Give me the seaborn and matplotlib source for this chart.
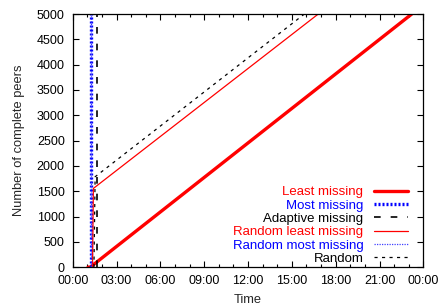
import matplotlib
matplotlib.use("Agg")
import matplotlib.pyplot as plt
import seaborn as sns
import pandas as pd
from matplotlib.ticker import MultipleLocator

# Data (time in hours, number of complete peers)
least_t = [1.05, 1.2, 23.2]
least_y = [0, 0, 5000]
most_t = [1.25, 1.25]
most_y = [0, 5200]
adaptive_t = [1.69, 1.69]
adaptive_y = [0, 5200]
rand_least_t = [1.35, 1.41, 16.8]
rand_least_y = [0, 1555, 5000]
rand_most_t = [1.22, 1.22]
rand_most_y = [0, 5200]
random_t = [1.45, 1.53, 15.85]
random_y = [0, 1785, 5000]

xtick_vals = [0, 3, 6, 9, 12, 15, 18, 21, 24]
xtick_labels = ["00:00", "03:00", "06:00", "09:00", "12:00", "15:00", "18:00", "21:00", "00:00"]
ytick_vals = list(range(0, 5001, 500))

sns.set_style("ticks")
plt.rcParams['font.family'] = ['Liberation Sans', 'DejaVu Sans']
plt.rcParams['font.size'] = 9

fig = plt.figure(figsize=(4.41, 3.06), dpi=100)
ax = fig.add_axes([0.165, 0.127, 0.795, 0.827])

series = [
    ("Least missing", least_t, least_y, dict(color="#ff0000", linewidth=2.4, linestyle="-")),
    ("Most missing", most_t, most_y, dict(color="#0000ff", linewidth=2.4, linestyle=(0, (0.6, 0.6)))),
    ("Adaptive missing", adaptive_t, adaptive_y, dict(color="black", linewidth=1.2, linestyle=(0, (4, 6)))),
    ("Random least missing", rand_least_t, rand_least_y, dict(color="#ff0000", linewidth=0.9, linestyle="-")),
    ("Random most missing", rand_most_t, rand_most_y, dict(color="#4040ff", linewidth=0.9, linestyle=(0, (1, 1)))),
    ("Random", random_t, random_y, dict(color="black", linewidth=0.9, linestyle=(0, (2.5, 3.5)))),
]
text_colors = ["#ff0000", "#0000ff", "black", "#ff0000", "#0000ff", "black"]

for name, t, y, st in series:
    df = pd.DataFrame({"t": t, "y": y})
    sns.lineplot(data=df, x="t", y="y", ax=ax, estimator=None, sort=False,
                 label=name, **st)

ax.set_xlim(0, 24)
ax.set_ylim(0, 5000)
ax.set_xticks(xtick_vals)
ax.set_xticklabels(xtick_labels)
ax.xaxis.set_minor_locator(MultipleLocator(1))
ax.set_yticks(ytick_vals)
ax.tick_params(which="both", direction="in", top=True, right=True, colors="black", labelcolor="black")
ax.tick_params(which="major", length=4, width=0.8)
ax.tick_params(which="minor", length=2, width=0.8)
ax.tick_params(axis="x", which="major", pad=5.8)
ax.tick_params(axis="y", which="major", pad=5.8)
for s in ax.spines.values():
    s.set_visible(True)
    s.set_color("black")
    s.set_linewidth(0.9)

ax.set_xlabel("Time", fontsize=9.3, labelpad=5)
ax.set_ylabel("Number of complete peers", fontsize=9.3, labelpad=8.5)

leg = ax.legend(loc="lower right", frameon=False, markerfirst=False, fontsize=9.5,
                handlelength=2.6, handletextpad=0.8, labelspacing=0.08,
                borderaxespad=0.0, bbox_to_anchor=(0.972, -0.012))
for txt, c in zip(leg.get_texts(), text_colors):
    txt.set_color(c)
    txt.set_ha("right")
leg._legend_box.align = "right"

fig.savefig("out.png", dpi=100)
